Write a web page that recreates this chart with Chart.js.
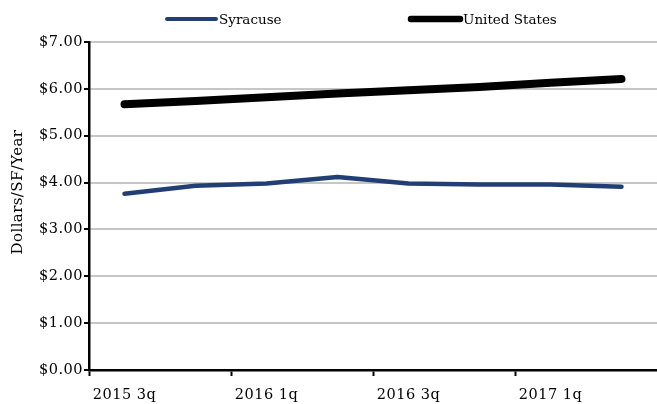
<!DOCTYPE html>
<html>
<head>
<meta charset="utf-8">
<script src="https://cdn.jsdelivr.net/npm/chart.js@4/dist/chart.umd.min.js"></script>
<style>
  html, body { margin: 0; padding: 0; background: #fff; }
  #wrap { width: 657px; height: 404px; position: relative; }
</style>
</head>
<body>
<div id="wrap"><canvas id="c"></canvas></div>
<script>
// Quarterly asking rents, dollars per square foot per year
const quarters = ['2015 3q', '2015 4q', '2016 1q', '2016 2q', '2016 3q', '2016 4q', '2017 1q', '2017 2q'];
const syracuse = [3.76, 3.93, 3.98, 4.12, 3.98, 3.96, 3.96, 3.91];
const unitedStates = [5.67, 5.74, 5.82, 5.90, 5.97, 6.04, 6.13, 6.21];
const yTicks = [0, 1, 2, 3, 4, 5, 6, 7];
const yTitle = 'Dollars/SF/Year';

const FONT = 'DejaVu Serif';
const SPACING = '0.5px';

// Slightly wider tracking for axis text; legend and title are drawn afterwards
const trackingPlugin = {
  id: 'tracking',
  beforeLayout(chart) { chart.ctx.letterSpacing = SPACING; },
  beforeDraw(chart) { chart.ctx.letterSpacing = SPACING; }
};

// Legend row across the top and the rotated value-axis title
const decorPlugin = {
  id: 'decor',
  afterDraw(chart, args, opts) {
    const ctx = chart.ctx;
    ctx.save();
    ctx.letterSpacing = '0px';
    ctx.font = '13.5px "' + FONT + '"';
    ctx.textBaseline = 'middle';
    ctx.fillStyle = '#000';
    const y = 20;
    chart.data.datasets.forEach((ds, i) => {
      const x0 = opts.legendX[i];
      ctx.beginPath();
      ctx.lineCap = 'round';
      ctx.strokeStyle = ds.borderColor;
      ctx.lineWidth = opts.sampleWidth[i];
      ctx.moveTo(x0 + 3, y - 1);
      ctx.lineTo(x0 + 52, y - 1);
      ctx.stroke();
      ctx.textAlign = 'left';
      ctx.fillText(ds.label, x0 + 55, y);
    });
    ctx.letterSpacing = '0.4px';
    ctx.translate(18, 192);
    ctx.rotate(-Math.PI / 2);
    ctx.textAlign = 'center';
    ctx.font = '15px "' + FONT + '"';
    ctx.fillText(yTitle, 0, 0);
    ctx.restore();
  }
};

new Chart(document.getElementById('c'), {
  type: 'line',
  data: {
    labels: quarters,
    datasets: [
      {
        label: 'Syracuse',
        data: syracuse,
        borderColor: '#223f75',
        borderWidth: 4.5,
        borderCapStyle: 'round',
        borderJoinStyle: 'round',
        pointRadius: 0,
        tension: 0
      },
      {
        label: 'United States',
        data: unitedStates,
        borderColor: '#000000',
        borderWidth: 8,
        borderCapStyle: 'round',
        borderJoinStyle: 'round',
        pointRadius: 0,
        tension: 0
      }
    ]
  },
  options: {
    responsive: true,
    maintainAspectRatio: false,
    animation: false,
    layout: { padding: { top: 42, right: 0, left: 0, bottom: 0 } },
    plugins: {
      legend: { display: false },
      tooltip: { enabled: false },
      decor: { legendX: [164, 408], sampleWidth: [4, 6.5] }
    },
    scales: {
      x: {
        offset: true,
        grid: {
          offset: true,
          drawOnChartArea: false,
          drawTicks: true,
          tickLength: 6,
          tickWidth: 2,
          tickColor: (c) => (c.index % 2 === 0 ? '#000' : 'rgba(0,0,0,0)')
        },
        border: { display: true, color: '#000', width: 2.5 },
        ticks: {
          autoSkip: false,
          maxRotation: 0,
          padding: 11,
          color: '#000',
          font: { family: FONT, size: 14.5 },
          callback: function (v, i) { return i % 2 === 0 ? this.getLabelForValue(v) : ''; }
        },
        afterFit: (s) => { s.height = 34; }
      },
      y: {
        min: yTicks[0],
        max: yTicks[yTicks.length - 1],
        grid: {
          color: '#c6c6c6',
          lineWidth: 2,
          drawTicks: true,
          tickLength: 5,
          tickWidth: 2,
          tickColor: '#000'
        },
        border: { display: true, color: '#000', width: 2.5 },
        afterBuildTicks: (s) => { s.ticks = yTicks.map(v => ({ value: v })); },
        ticks: {
          padding: 1,
          color: '#000',
          font: { family: FONT, size: 14.5 },
          callback: (v) => '$' + Number(v).toFixed(2)
        },
        afterFit: (s) => { s.width = 89; }
      }
    }
  },
  plugins: [trackingPlugin, decorPlugin]
});
</script>
</body>
</html>
